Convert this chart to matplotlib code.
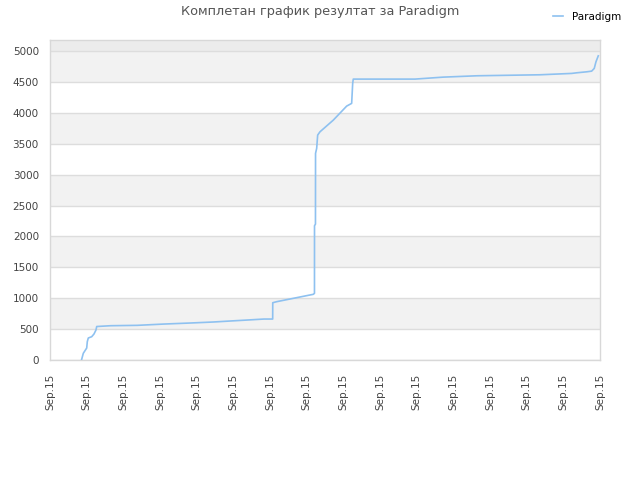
import matplotlib
matplotlib.use("Agg")
import matplotlib.pyplot as plt

# data: x in tick-interval units (16 ticks, all labelled "Sep.15"), y = score
x_vals = [0.859, 0.908, 1.001, 1.017, 1.044, 1.137, 1.200, 1.254, 1.274, 1.655,
          2.381, 3.109, 3.837, 4.453, 4.909, 5.381, 5.836, 6.073, 6.075, 6.182,
          7.180, 7.213, 7.214, 7.240, 7.242, 7.273, 7.300, 7.363, 7.726, 8.091,
          8.227, 8.255, 8.271, 9.954, 10.335, 10.725, 11.652, 13.362, 14.227,
          14.363, 14.636, 14.772, 14.843, 14.890, 14.953]
y_vals = [0, 108, 194, 296, 356, 377, 421, 486, 542, 555,
          561, 582, 599, 615, 631, 647, 663, 663, 927, 944,
          1063, 1079, 2173, 2200, 3345, 3426, 3641, 3694, 3883, 4110,
          4154, 4477, 4547, 4547, 4563, 4579, 4601, 4617, 4639,
          4649, 4665, 4676, 4720, 4827, 4924]
tick_labels = ["Sep.15"] * 16
y_ticks = list(range(0, 5001, 500))
series_name = "Paradigm"
title = "Комплетан график резултат за Paradigm"

fig = plt.figure(figsize=(6.4, 4.8), dpi=100)
ax = fig.add_axes([50/640, 120/480, 550/640, 320/480])
ymax = 5180
ax.set_xlim(0, 15)
ax.set_ylim(0, ymax)

# alternating bands
for i, lo in enumerate(y_ticks):
    hi = lo + 500
    if i % 2 == 1:
        ax.axhspan(lo, min(hi, ymax), color="#f2f2f2", zorder=0, lw=0)
ax.axhspan(5000, ymax, color="#ececec", zorder=0, lw=0)
for yv in y_ticks:
    ax.axhline(yv, color="#dddddd", lw=1, zorder=1)

ax.plot(x_vals, y_vals, color="#8ec1f0", lw=1.2, zorder=3, label=series_name)

ax.set_yticks(y_ticks)
ax.set_xticks(range(16))
ax.set_xticklabels(tick_labels, rotation=90)
ax.tick_params(axis="both", length=0, labelsize=7.5, labelcolor="#444444")
ax.tick_params(axis="x", pad=10)
ax.tick_params(axis="y", pad=8)
for s in ax.spines.values():
    s.set_color("#d8d8d8")
    s.set_linewidth(1)

fig.text(0.5, 1 - 12/480, title, ha="center", va="center", fontsize=9.3, color="#555555")
leg = fig.legend(loc="upper right", bbox_to_anchor=(0.985, 0.995), frameon=False,
                 fontsize=7.5, handlelength=1.0, handletextpad=0.8)
fig.savefig("out.png", dpi=100)
